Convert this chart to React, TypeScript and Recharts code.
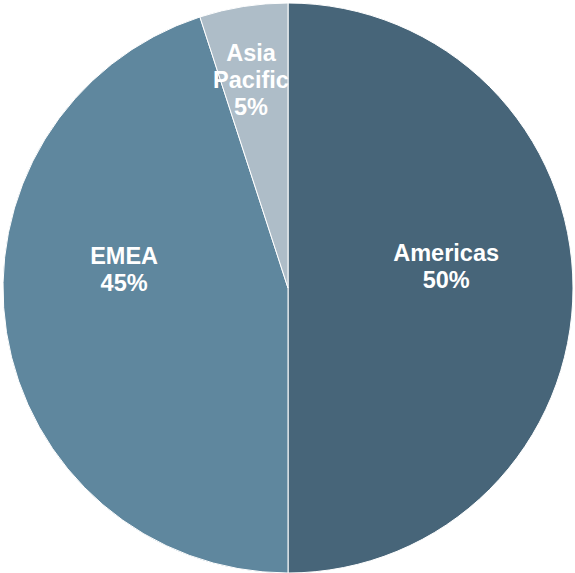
import React from 'react';
import { PieChart, Pie, Cell } from 'recharts';

const regions = ['Americas', 'EMEA', 'Asia Pacific'];
const shares = [50, 45, 5];
const colors = ['#476579', '#5f879e', '#aebdc8'];

const chartData = regions.map((name, i) => ({ name, value: shares[i] }));

const RADIAN = Math.PI / 180;
// label placement tweaks: [radius ratio, horizontal shift, vertical shift]
const labelTweaks: [number, number, number][] = [
  [0.555, 0, -22],
  [0.575, -2, -44],
  [0.74, -4, 0],
];

const renderLabel = (props: any) => {
  const { cx, cy, midAngle, outerRadius, index, name, value } = props;
  const [ratio, dx, dy] = labelTweaks[index];
  const r = outerRadius * ratio;
  const x = cx + r * Math.cos(-midAngle * RADIAN) + dx;
  const y = cy + r * Math.sin(-midAngle * RADIAN) + dy;
  const lines = [...String(name).split(' '), `${value}%`];
  const lh = 27;
  const top = y - ((lines.length - 1) * lh) / 2;
  return (
    <text
      x={x}
      y={top}
      fill="#fff"
      textAnchor="middle"
      dominantBaseline="central"
      fontFamily="Liberation Sans, Arial, sans-serif"
      fontWeight="bold"
      fontSize={23.5}
    >
      {lines.map((l, i) => (
        <tspan key={i} x={x} y={top + i * lh}>
          {l}
        </tspan>
      ))}
    </text>
  );
};

const App = () => {
  return (
    <div style={{ position: 'absolute', left: 0, top: 0, background: '#fff' }}>
      <PieChart width={575} height={573} margin={{ top: 0, right: 0, bottom: 0, left: 0 }}>
        <Pie
          data={chartData}
          dataKey="value"
          nameKey="name"
          cx={288}
          cy={288}
          outerRadius={285}
          startAngle={90}
          endAngle={-270}
          stroke="#ffffff"
          strokeWidth={1}
          label={renderLabel}
          labelLine={false}
          isAnimationActive={false}
        >
          {chartData.map((d, i) => (
            <Cell key={d.name} fill={colors[i]} />
          ))}
        </Pie>
      </PieChart>
    </div>
  );
};

export default App;
